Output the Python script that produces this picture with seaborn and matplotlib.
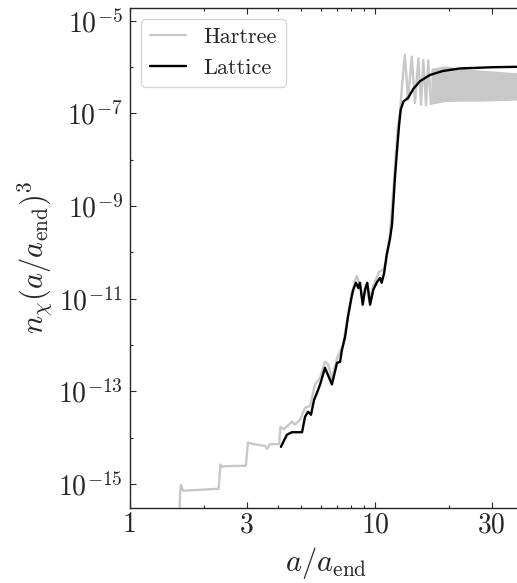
import numpy as np
import pandas as pd
import matplotlib
matplotlib.use("Agg")
import matplotlib.pyplot as plt
from matplotlib.ticker import FixedLocator, FixedFormatter, LogFormatterMathtext, NullFormatter
import seaborn as sns

# Hartree curve (steps, rise, first oscillation spikes)
hartree_x = [1.59, 1.60, 1.615, 1.645, 2.30, 2.34, 2.375, 2.42, 2.97, 3.03, 3.15, 3.56,
             3.62, 3.73, 4.06, 4.11, 4.25, 4.58, 4.71, 4.94, 5.18, 5.43, 5.69, 5.97, 6.25,
             6.43, 6.67, 7.0, 7.4, 7.76, 8.05, 8.42, 8.68, 8.93, 9.19, 9.46, 9.81, 10.4,
             10.8, 11.1, 11.5, 11.96, 12.36, 12.65, 12.9, 13.25, 13.64, 14.12, 14.56, 15.03,
             15.41, 15.75, 16.15, 16.5, 16.9]
hartree_y = [1e-16, 6e-16, 9.5e-16, 7.1e-16, 7.8e-16, 2.6e-15, 2.3e-15, 2.4e-15, 2.45e-15,
             7.8e-15, 7.3e-15, 6.6e-15, 5.7e-15, 7.2e-15, 7.2e-15, 1.7e-14, 1.5e-14, 2.2e-14,
             1.9e-14, 2.4e-14, 4.4e-14, 4.8e-14, 1.4e-13, 1.95e-13, 4.3e-13, 3.9e-13, 1.8e-13,
             5.2e-13, 1e-12, 4.5e-12, 1.4e-11, 3.1e-11, 2e-11, 8.5e-12, 2e-11, 9.3e-12,
             1.8e-11, 3.8e-11, 4.2e-11, 6.3e-11, 2.4e-10, 3.7e-9, 4.5e-8, 1.07e-7, 4.2e-7,
             1.86e-6, 1.95e-7, 1.7e-6, 1.7e-7, 1.55e-6, 1.55e-7, 1.44e-6, 1.5e-7, 1.4e-6,
             1.6e-7]

# dense Hartree oscillation band (envelopes)
band_x = [16.9, 19.3, 22.2, 26.8, 38.0, 45.0]
band_hi = [9.5e-7, 1.07e-6, 9.5e-7, 8.7e-7, 7.6e-7, 7.3e-7]
band_lo = [1.6e-7, 1.8e-7, 1.85e-7, 1.85e-7, 1.95e-7, 2.0e-7]

lattice_x = [4.13, 4.37, 4.58, 5.04, 5.18, 5.33, 5.48, 5.64, 5.80, 5.97, 6.25, 6.67, 7.0,
             7.2, 7.33, 7.55, 7.76, 8.03, 8.15, 8.36, 8.55, 8.68, 8.91, 9.10, 9.30, 9.55,
             9.84, 10.2, 10.5, 10.65, 10.9, 11.16, 11.5, 11.73, 12.07, 12.3, 12.54, 12.73,
             13.05, 13.67, 14.33, 15.27, 16.76, 18.95, 22.2, 30.3, 38.0, 45.0]
lattice_y = [6.3e-15, 1.15e-14, 1.3e-14, 1.3e-14, 2.8e-14, 3.6e-14, 3.1e-14, 6.5e-14, 9.3e-14,
             1.4e-13, 3.2e-13, 1.4e-13, 4.1e-13, 4.3e-13, 7.8e-13, 1.5e-12, 4.1e-12, 1.1e-11,
             1.55e-11, 2.2e-11, 1.7e-11, 2.2e-11, 7.4e-12, 1.55e-11, 2.2e-11, 7.4e-12,
             1.55e-11, 2.3e-11, 2.8e-11, 2.2e-11, 3.6e-11, 8.9e-11, 1.9e-10, 3.9e-10, 4.3e-9,
             1.6e-8, 5.6e-8, 1.2e-7, 1.8e-7, 2.2e-7, 3.4e-7, 5e-7, 6.8e-7, 8.3e-7, 9.4e-7,
             1e-6, 1.02e-6, 1.03e-6]

x_major = [1, 3, 10, 30]
x_major_labels = ["1", "3", "10", "30"]
x_minor = [2, 4, 5, 6, 7, 8, 9, 20, 40]

GRAY = "#c8c8c8"

sns.set_style("ticks")
plt.rcParams["font.family"] = "serif"
plt.rcParams["font.serif"] = ["cmr10", "DejaVu Serif"]
plt.rcParams["mathtext.fontset"] = "cm"
plt.rcParams["axes.formatter.use_mathtext"] = True

df = pd.concat([
    pd.DataFrame({"x": hartree_x, "y": hartree_y, "series": "Hartree"}),
    pd.DataFrame({"x": lattice_x, "y": lattice_y, "series": "Lattice"}),
])

fig = plt.figure(figsize=(5.17, 5.83), dpi=100)
ax = fig.add_axes([130 / 517, 75 / 583, 392.5 / 517, 500.5 / 583])

ax.fill_between(band_x, band_lo, band_hi, color=GRAY, linewidth=0, zorder=1)
sns.lineplot(data=df, x="x", y="y", hue="series", palette={"Hartree": GRAY, "Lattice": "black"},
             sort=False, estimator=None, linewidth=1.7, ax=ax)

ax.set_xscale("log")
ax.set_yscale("log")
ax.set_xlim(1, 40)
ax.set_ylim(3.0e-16, 1.95e-5)

ax.xaxis.set_major_locator(FixedLocator(x_major))
ax.xaxis.set_major_formatter(FixedFormatter(x_major_labels))
ax.xaxis.set_minor_locator(FixedLocator(x_minor))
ax.xaxis.set_minor_formatter(NullFormatter())
ax.yaxis.set_major_locator(FixedLocator(10.0 ** np.arange(-15, -4, 2)))
ax.yaxis.set_major_formatter(LogFormatterMathtext())
ax.yaxis.set_minor_locator(FixedLocator(10.0 ** np.arange(-16, -4, 2)))
ax.yaxis.set_minor_formatter(NullFormatter())

ax.tick_params(which="both", direction="in", top=True, right=True, width=0.8)
ax.tick_params(which="major", length=4.5, labelsize=20)
ax.tick_params(which="minor", length=2.5)
ax.tick_params(axis="x", pad=3)
ax.tick_params(axis="y", pad=5)
for s in ax.spines.values():
    s.set_linewidth(1.0)

ax.set_xlabel(r"$a/a_{\rm end}$", fontsize=22, labelpad=5)
ax.set_ylabel(r"$n_\chi(a/a_{\rm end})^3$", fontsize=22, labelpad=2)

ax.legend(loc="upper left", fontsize=16, frameon=True, framealpha=0.8,
          edgecolor="#cccccc", handlelength=1.6, borderaxespad=0.5)

fig.savefig("out.png", dpi=100)
